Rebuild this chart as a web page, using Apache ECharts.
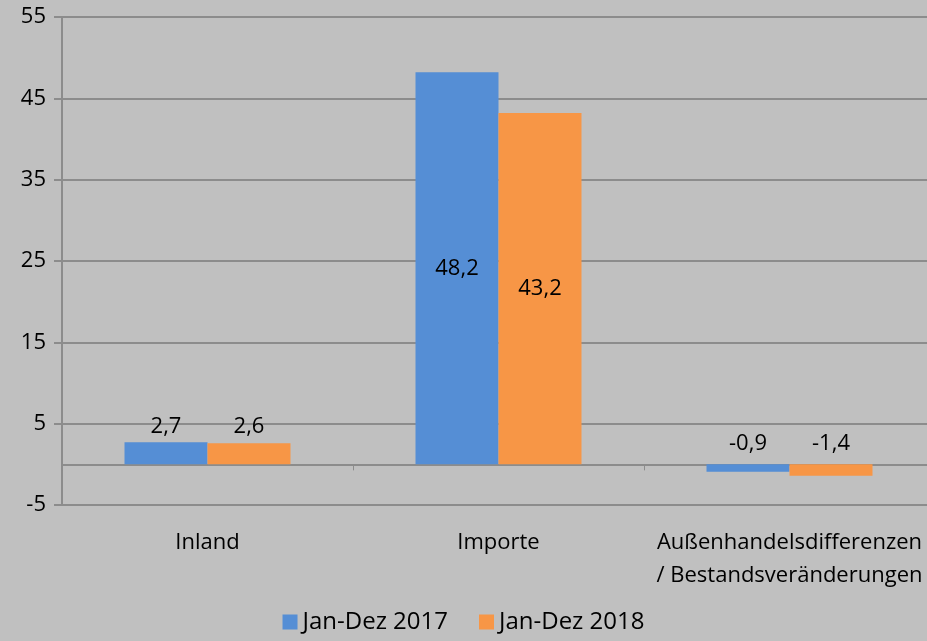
<!DOCTYPE html>
<html><head><meta charset="utf-8">
<script src="https://cdn.jsdelivr.net/npm/echarts@6/dist/echarts.min.js"></script>
<style>html,body{margin:0;padding:0;background:#c0c0c0}#c{width:927px;height:641px}</style>
</head><body><div id="c"></div>
<script>
const categories = ['Inland', 'Importe', 'Außenhandelsdifferenzen\n/ Bestandsveränderungen'];
const seriesNames = ['Jan-Dez 2017', 'Jan-Dez 2018'];
const values2017 = [2.7, 48.2, -0.9];
const values2018 = [2.6, 43.2, -1.4];
const yMin = -5, yMax = 55, yStep = 10;

const font = '"Open Sans", sans-serif';
const colors = ['#558ED5', '#F79646'];
function fmt(v){ return String(v).replace('.', ','); }
function items(arr){
  return arr.map(v => ({
    value: v,
    label: { position: v > 10 ? 'inside' : 'top', distance: v < 0 ? 10 : 5 }
  }));
}
const chart = echarts.init(document.getElementById('c'));
chart.setOption({
  backgroundColor: '#c0c0c0',
  animation: false,
  grid: { left: 62, width: 873, top: 17, bottom: 136, containLabel: false, outerBoundsMode: 'none' },
  legend: {
    bottom: 2, left: 'center', itemWidth: 15, itemHeight: 15, itemGap: 31,
    icon: 'rect',
    textStyle: { fontFamily: font, fontSize: 24, color: '#000' },
    data: seriesNames
  },
  xAxis: [{
    type: 'category', data: categories, position: 'bottom',
    axisLine: { onZero: true, lineStyle: { color: '#8c8c8c', width: 2 } },
    axisTick: { show: true, length: 6, lineStyle: { color: '#8c8c8c', width: 1 } },
    axisLabel: { show: false }
  }, {
    type: 'category', data: categories, position: 'bottom',
    axisLine: { show: false, onZero: false }, axisTick: { show: false },
    axisLabel: { margin: 21, fontFamily: font, fontSize: 22, color: '#000', lineHeight: 33, interval: 0 }
  }],
  yAxis: {
    type: 'value', min: yMin, max: yMax, interval: yStep,
    axisLine: { show: true, lineStyle: { color: '#8c8c8c', width: 2 } },
    axisTick: { show: true, length: 8, lineStyle: { color: '#8c8c8c', width: 2 } },
    splitLine: { lineStyle: { color: '#8c8c8c', width: 2 } },
    axisLabel: { margin: 16, fontFamily: font, fontSize: 22, color: '#000' }
  },
  series: [values2017, values2018].map((arr, i) => ({
    name: seriesNames[i], type: 'bar', xAxisIndex: 0,
    data: items(arr), barWidth: 83, barGap: '0%',
    itemStyle: { color: colors[i] },
    label: { show: true, fontFamily: font, fontSize: 22, color: '#000',
      formatter: p => fmt(p.value) }
  }))
});
</script></body></html>
